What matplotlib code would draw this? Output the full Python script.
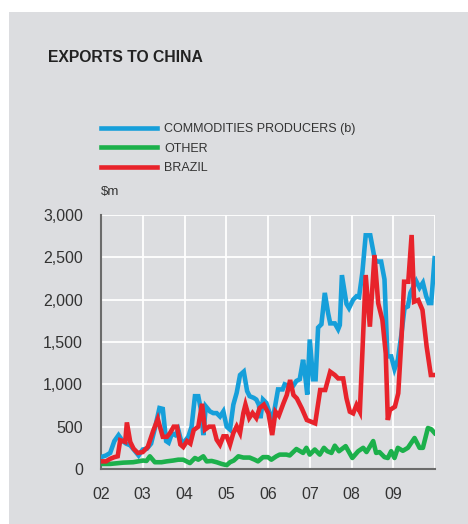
import matplotlib
matplotlib.use('Agg')
import matplotlib.pyplot as plt
from matplotlib.patches import Rectangle

plt.rcParams['font.family'] = ['Liberation Sans', 'DejaVu Sans']

# Monthly export values ($m), positions as decimal years
commodDates = [2002.00, 2002.12, 2002.22, 2002.32, 2002.42, 2002.52, 2002.60, 2002.70, 2002.80, 2002.90,
               2003.00, 2003.10, 2003.20, 2003.30, 2003.40, 2003.48, 2003.56, 2003.62, 2003.70, 2003.78,
               2003.85, 2003.93, 2004.01, 2004.09, 2004.17, 2004.25, 2004.33, 2004.41, 2004.45, 2004.51,
               2004.61, 2004.69, 2004.77, 2004.85, 2004.93, 2005.01, 2005.09, 2005.17, 2005.25, 2005.33,
               2005.42, 2005.50, 2005.56, 2005.66, 2005.72, 2005.78, 2005.82, 2005.88, 2005.96, 2006.04,
               2006.12, 2006.24, 2006.35, 2006.40, 2006.50, 2006.60, 2006.68, 2006.76, 2006.84, 2006.88,
               2006.94, 2007.00, 2007.08, 2007.14, 2007.20, 2007.28, 2007.36, 2007.44, 2007.49, 2007.60,
               2007.68, 2007.72, 2007.77, 2007.88, 2007.94, 2008.04, 2008.12, 2008.18, 2008.26, 2008.34,
               2008.45, 2008.56, 2008.63, 2008.71, 2008.79, 2008.86, 2008.95, 2009.03, 2009.11, 2009.19,
               2009.27, 2009.35, 2009.41, 2009.49, 2009.55, 2009.63, 2009.71, 2009.79, 2009.85, 2009.91,
               2009.99]
commodVals = [140, 160, 190, 330, 400, 330, 300, 280, 220, 160,
              230, 240, 300, 500, 720, 710, 330, 310, 420, 400,
              465, 310, 330, 380, 500, 860, 860, 660, 400, 740,
              680, 660, 660, 620, 680, 500, 465, 760, 900, 1110,
              1150, 920, 860, 840, 820, 760, 600, 820, 780, 660,
              600, 940, 940, 1000, 980, 980, 1040, 1060, 1290, 1150,
              880, 1530, 1060, 1060, 1670, 1710, 2080, 1840, 1720, 1720,
              1650, 1700, 2290, 1950, 1900, 2000, 2040, 2030, 2320, 2760,
              2760, 2470, 2450, 2450, 2240, 1330, 1330, 1180, 1290, 1570,
              1900, 1920, 2080, 2160, 2220, 2140, 2200, 2040, 1960, 1960,
              2490]

otherDates = [2002.00, 2002.22, 2002.53, 2002.77, 2003.01, 2003.09, 2003.17, 2003.29, 2003.45, 2003.57,
              2003.73, 2003.85, 2003.97, 2004.05, 2004.13, 2004.25, 2004.33, 2004.45, 2004.53, 2004.65,
              2004.77, 2004.89, 2005.01, 2005.09, 2005.18, 2005.29, 2005.41, 2005.56, 2005.68, 2005.76,
              2005.88, 2006.00, 2006.08, 2006.20, 2006.28, 2006.44, 2006.52, 2006.68, 2006.84, 2006.92,
              2007.00, 2007.12, 2007.24, 2007.34, 2007.42, 2007.52, 2007.60, 2007.70, 2007.86, 2008.02,
              2008.16, 2008.28, 2008.36, 2008.52, 2008.59, 2008.67, 2008.79, 2008.87, 2008.95, 2009.03,
              2009.11, 2009.23, 2009.35, 2009.51, 2009.63, 2009.71, 2009.83, 2009.91, 2009.99]
otherVals = [60, 60, 75, 80, 100, 95, 150, 80, 80, 90,
             100, 110, 110, 90, 70, 130, 110, 150, 90, 95,
             80, 60, 45, 80, 100, 150, 135, 135, 110, 90,
             140, 140, 110, 150, 170, 170, 160, 236, 190, 250,
             170, 230, 170, 250, 210, 190, 275, 210, 270, 130,
             210, 250, 200, 330, 190, 200, 140, 130, 210, 130,
             250, 215, 250, 366, 250, 250, 484, 470, 425]

brazilDates = [2002.00, 2002.12, 2002.22, 2002.32, 2002.40, 2002.46, 2002.52, 2002.58, 2002.62, 2002.70,
               2002.78, 2002.88, 2003.00, 2003.12, 2003.25, 2003.36, 2003.48, 2003.58, 2003.66, 2003.74,
               2003.82, 2003.90, 2003.97, 2004.06, 2004.14, 2004.22, 2004.33, 2004.42, 2004.49, 2004.59,
               2004.69, 2004.77, 2004.85, 2004.93, 2005.01, 2005.09, 2005.17, 2005.25, 2005.33, 2005.41,
               2005.46, 2005.55, 2005.63, 2005.72, 2005.80, 2005.90, 2006.01, 2006.10, 2006.18, 2006.26,
               2006.37, 2006.45, 2006.53, 2006.61, 2006.69, 2006.81, 2006.93, 2007.13, 2007.25, 2007.37,
               2007.49, 2007.60, 2007.68, 2007.80, 2007.88, 2007.96, 2008.04, 2008.12, 2008.20, 2008.34,
               2008.44, 2008.55, 2008.64, 2008.74, 2008.82, 2008.87, 2008.92, 2009.04, 2009.12, 2009.20,
               2009.26, 2009.36, 2009.44, 2009.50, 2009.60, 2009.70, 2009.80, 2009.90, 2010.00]
brazilVals = [90, 90, 120, 140, 150, 340, 330, 320, 550, 320,
              240, 190, 200, 260, 450, 590, 380, 380, 430, 500,
              500, 290, 260, 330, 300, 460, 500, 770, 465, 500,
              500, 346, 287, 386, 386, 287, 425, 504, 425, 661,
              760, 602, 661, 602, 720, 760, 658, 401, 677, 630,
              776, 874, 1051, 874, 834, 716, 579, 539, 933, 933,
              1149, 1110, 1070, 1070, 834, 677, 657, 756, 677, 2291,
              1681, 2527, 1957, 1760, 1366, 579, 697, 736, 894, 1563,
              2212, 2212, 2764, 1976, 1996, 1878, 1444, 1110, 1110]

yearTicks = [2002, 2003, 2004, 2005, 2006, 2007, 2008, 2009, 2010]
yearLabels = ['02', '03', '04', '05', '06', '07', '08', '09', '']
valueTicks = [0, 500, 1000, 1500, 2000, 2500, 3000]
valueLabels = ['0', '500', '1,000', '1,500', '2,000', '2,500', '3,000']

bgGrey = '#dcdde0'
textGrey = '#333333'

fig = plt.figure(figsize=(4.68, 5.24), dpi=100, facecolor='white')
fig.add_artist(Rectangle((9 / 468, 0), 1, (524 - 12) / 524, transform=fig.transFigure,
                         facecolor=bgGrey, edgecolor='none', zorder=-10))

ax = fig.add_axes([101 / 468, 55 / 524, 334 / 468, 254 / 524])
ax.set_facecolor(bgGrey)

ax.plot(commodDates, commodVals, color='#169fda', lw=3.3, label='COMMODITIES PRODUCERS (b)',
        solid_joinstyle='miter', zorder=3)
ax.plot(otherDates, otherVals, color='#1cb04b', lw=3.3, label='OTHER', zorder=3)
ax.plot(brazilDates, brazilVals, color='#e8232b', lw=3.3, label='BRAZIL',
        solid_joinstyle='miter', zorder=4)

ax.set_xlim(2002, 2010)
ax.set_ylim(0, 3000)
ax.set_xticks(yearTicks)
ax.set_xticklabels(yearLabels)
ax.set_yticks(valueTicks)
ax.set_yticklabels(valueLabels)
ax.grid(True, color='white', lw=1.3)
ax.set_axisbelow(True)
ax.tick_params(length=0, labelsize=11.5, labelcolor=textGrey)
ax.tick_params(axis='y', pad=13)
ax.tick_params(axis='x', pad=13)
for side in ['top', 'right']:
    ax.spines[side].set_visible(False)
for side in ['left', 'bottom']:
    ax.spines[side].set_color('#6b6b6b')
    ax.spines[side].set_linewidth(1.5)

fig.text(48 / 468, 1 - 57 / 524, 'EXPORTS TO CHINA', fontsize=11.3, fontweight='bold',
         color='#222222', va='center', ha='left')

fig.legend(loc='upper left', bbox_to_anchor=(101 / 468, 1 - 123 / 524), frameon=False,
           fontsize=9, handlelength=4.5, handletextpad=0.55, labelspacing=0.6,
           borderpad=0, borderaxespad=0, labelcolor=textGrey)

fig.text(101 / 468, 1 - 192 / 524, '$m', fontsize=9.5, color=textGrey, va='center', ha='left')

plt.savefig('out.png', dpi=100, facecolor='white')
